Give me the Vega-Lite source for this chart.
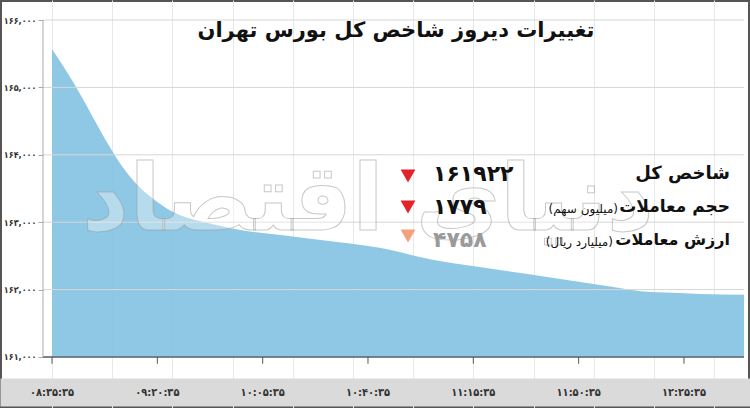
{
  "$schema": "https://vega.github.io/schema/vega-lite/v6.json",
  "width": 750,
  "height": 408,
  "autosize": "none",
  "padding": 0,
  "background": "white",
  "config": {
    "view": {"fill": "white", "stroke": "#555555", "strokeWidth": 4},
    "font": "DejaVu Sans"
  },
  "title": {
    "text": "تغییرات دیروز شاخص کل بورس تهران",
    "orient": "top",
    "anchor": "middle",
    "frame": "group",
    "offset": -41,
    "dx": 21,
    "fontSize": 21,
    "font": "DejaVu Sans",
    "fontWeight": "bold",
    "color": "#111111"
  },
  "datasets": {
    "series": [
      {"t": 0, "value": 165570},
      {"t": 0.2, "value": 165080},
      {"t": 0.36, "value": 164640},
      {"t": 0.52, "value": 164190},
      {"t": 0.67, "value": 163820},
      {"t": 0.84, "value": 163507},
      {"t": 1.0, "value": 163300},
      {"t": 1.15, "value": 163150},
      {"t": 1.47, "value": 162990},
      {"t": 1.79, "value": 162884},
      {"t": 2.17, "value": 162810},
      {"t": 2.55, "value": 162735},
      {"t": 3.11, "value": 162620},
      {"t": 3.59, "value": 162450},
      {"t": 4.06, "value": 162334},
      {"t": 4.7, "value": 162186},
      {"t": 5.33, "value": 162038},
      {"t": 5.68, "value": 161963},
      {"t": 5.96, "value": 161949},
      {"t": 6.15, "value": 161934},
      {"t": 6.57, "value": 161922}
    ],
    "levels": [
      {"level": 161000}, {"level": 162000}, {"level": 163000},
      {"level": 164000}, {"level": 165000}, {"level": 166000}
    ],
    "times": [
      {"t": 0, "time": "۰۸:۳۵:۳۵"}, {"t": 1, "time": "۰۹:۲۰:۳۵"}, {"t": 2, "time": "۱۰:۰۵:۳۵"},
      {"t": 3, "time": "۱۰:۴۰:۳۵"}, {"t": 4, "time": "۱۱:۱۵:۳۵"}, {"t": 5, "time": "۱۱:۵۰:۳۵"},
      {"t": 6, "time": "۱۲:۲۵:۳۵"}
    ],
    "stats": [
      {"row": 1, "label": "شاخص کل", "unit": "", "value": "۱۶۱۹۲۲", "change": "down"},
      {"row": 2, "label": "حجم معاملات", "unit": "(میلیون سهم)", "value": "۱۷۷۹", "change": "down"},
      {"row": 3, "label": "ارزش معاملات", "unit": "(میلیارد ریال)", "value": "۴۷۵۸", "change": "down"}
    ],
    "brand": [{"name": "دنیای اقتصاد"}]
  },
  "layer": [
    {
      "data": {"name": "series"},
      "mark": {"type": "area", "color": "#80c0e0", "opacity": 0.88, "interpolate": "monotone"},
      "encoding": {
        "x": {
          "field": "t",
          "type": "quantitative",
          "scale": {"domain": [-0.494, 6.627], "nice": false, "zero": false},
          "axis": {
            "orient": "bottom",
            "offset": -16,
            "values": [0, 0.142857, 0.285714, 0.428571, 0.571429, 0.714286, 0.857143, 1,
              1.142857, 1.285714, 1.428571, 1.571429, 1.714286, 1.857143, 2,
              2.142857, 2.285714, 2.428571, 2.571429, 2.714286, 2.857143, 3,
              3.142857, 3.285714, 3.428571, 3.571429, 3.714286, 3.857143, 4,
              4.142857, 4.285714, 4.428571, 4.571429, 4.714286, 4.857143, 5,
              5.142857, 5.285714, 5.428571, 5.571429, 5.714286, 5.857143, 6,
              6.142857, 6.285714, 6.428571],
            "labels": false,
            "domain": true,
            "domainColor": "#dadada",
            "domainWidth": 28,
            "ticks": false,
            "grid": true,
            "gridColor": "#e8e8e8",
            "gridWidth": 1,
            "title": null
          }
        },
        "y": {
          "field": "value",
          "type": "quantitative",
          "scale": {"domain": [160243, 166297], "nice": false, "zero": false},
          "axis": {
            "orient": "left",
            "offset": -43,
            "values": [161000, 162000, 163000, 164000, 165000, 166000],
            "labelExpr": "['۱۶۱,۰۰۰','۱۶۲,۰۰۰','۱۶۳,۰۰۰','۱۶۴,۰۰۰','۱۶۵,۰۰۰','۱۶۶,۰۰۰'][round((datum.value-161000)/1000)]",
            "domain": false,
            "ticks": true,
            "tickSize": 5,
            "tickColor": "#aaaaaa",
            "labelPadding": 2,
            "labelFontSize": 9,
            "labelFont": "DejaVu Sans Condensed",
            "labelFontWeight": "bold",
            "labelColor": "#333333",
            "grid": false,
            "title": null
          }
        },
        "y2": {"datum": 161000}
      }
    },
    {
      "data": {"name": "levels"},
      "mark": {"type": "rule", "color": "#d6d6d6", "strokeWidth": 1},
      "encoding": {
        "y": {"field": "level", "type": "quantitative"},
        "x": {"datum": -0.0857, "type": "quantitative"},
        "x2": {"datum": 6.57}
      }
    },
    {
      "data": {"name": "levels"},
      "transform": [{"filter": "datum.level == 161000"}],
      "mark": {"type": "rule", "color": "#556070", "strokeWidth": 1.5},
      "encoding": {
        "y": {"field": "level", "type": "quantitative"},
        "x": {"datum": -0.0857, "type": "quantitative"},
        "x2": {"datum": 6.57}
      }
    },
    {
      "data": {"name": "levels"},
      "transform": [{"filter": "datum.level == 161000"}],
      "mark": {"type": "rule", "color": "#aaaaaa", "strokeWidth": 1},
      "encoding": {
        "x": {"datum": -0.0857, "type": "quantitative"},
        "y": {"field": "level", "type": "quantitative"},
        "y2": {"datum": 166000}
      }
    },
    {
      "data": {"name": "times"},
      "mark": {"type": "rule", "color": "#555555", "strokeWidth": 1},
      "encoding": {
        "x": {"field": "t", "type": "quantitative"},
        "y": {"datum": 161000, "type": "quantitative"},
        "y2": {"datum": 160900}
      }
    },
    {
      "data": {"name": "times"},
      "mark": {"type": "text", "align": "center", "baseline": "middle", "fontSize": 11, "font": "DejaVu Sans Condensed", "fontWeight": "bold", "color": "#333333"},
      "encoding": {
        "x": {"field": "t", "type": "quantitative"},
        "y": {"datum": 160466, "type": "quantitative"},
        "text": {"field": "time"}
      }
    },
    {
      "data": {"name": "brand"},
      "mark": {"type": "text", "fontSize": 92, "font": "DejaVu Sans", "fontWeight": "bold", "fill": "#ffffff", "fillOpacity": 0.35, "stroke": "#9a9a9a", "strokeWidth": 1, "strokeOpacity": 0.55, "align": "center", "baseline": "middle"},
      "encoding": {
        "x": {"datum": 3.0, "type": "quantitative"},
        "y": {"datum": 163300, "type": "quantitative"},
        "text": {"field": "name"}
      }
    },
    {
      "data": {"name": "stats"},
      "transform": [{"filter": "datum.row == 1"}],
      "layer": [
        {"mark": {"type": "point", "shape": "triangle-down", "filled": true, "size": 220, "color": "#e3222a", "opacity": 1},
         "encoding": {"x": {"datum": 3.38, "type": "quantitative"}, "y": {"datum": 163685, "type": "quantitative"}}},
        {"mark": {"type": "text", "align": "left", "baseline": "middle", "fontSize": 22, "fontWeight": "bold", "color": "#111111"},
         "encoding": {"x": {"datum": 3.617, "type": "quantitative"}, "y": {"datum": 163715, "type": "quantitative"}, "text": {"field": "value"}}},
        {"mark": {"type": "text", "align": "right", "baseline": "middle", "fontSize": 18, "fontWeight": "bold", "color": "#111111"},
         "encoding": {"x": {"datum": 6.437, "type": "quantitative"}, "y": {"datum": 163715, "type": "quantitative"}, "text": {"field": "label"}}}
      ]
    },
    {
      "data": {"name": "stats"},
      "transform": [{"filter": "datum.row == 2"}],
      "layer": [
        {"mark": {"type": "point", "shape": "triangle-down", "filled": true, "size": 220, "color": "#e3222a", "opacity": 1},
         "encoding": {"x": {"datum": 3.38, "type": "quantitative"}, "y": {"datum": 163225, "type": "quantitative"}}},
        {"mark": {"type": "text", "align": "left", "baseline": "middle", "fontSize": 22, "fontWeight": "bold", "color": "#111111"},
         "encoding": {"x": {"datum": 3.617, "type": "quantitative"}, "y": {"datum": 163225, "type": "quantitative"}, "text": {"field": "value"}}},
        {"mark": {"type": "text", "align": "right", "baseline": "middle", "fontSize": 17, "fontWeight": "bold", "color": "#111111"},
         "encoding": {"x": {"datum": 6.437, "type": "quantitative"}, "y": {"datum": 163225, "type": "quantitative"}, "text": {"field": "label"}}},
        {"mark": {"type": "text", "align": "right", "baseline": "middle", "fontSize": 12, "color": "#111111"},
         "encoding": {"x": {"datum": 5.374, "type": "quantitative"}, "y": {"datum": 163195, "type": "quantitative"}, "text": {"field": "unit"}}}
      ]
    },
    {
      "data": {"name": "stats"},
      "transform": [{"filter": "datum.row == 3"}],
      "layer": [
        {"mark": {"type": "point", "shape": "triangle-down", "filled": true, "size": 220, "color": "#f4a07e", "opacity": 1},
         "encoding": {"x": {"datum": 3.38, "type": "quantitative"}, "y": {"datum": 162795, "type": "quantitative"}}},
        {"mark": {"type": "text", "align": "left", "baseline": "middle", "fontSize": 22, "fontWeight": "bold", "color": "#9a9a9a"},
         "encoding": {"x": {"datum": 3.617, "type": "quantitative"}, "y": {"datum": 162736, "type": "quantitative"}, "text": {"field": "value"}}},
        {"mark": {"type": "text", "align": "right", "baseline": "middle", "fontSize": 16, "fontWeight": "bold", "color": "#111111"},
         "encoding": {"x": {"datum": 6.437, "type": "quantitative"}, "y": {"datum": 162736, "type": "quantitative"}, "text": {"field": "label"}}},
        {"mark": {"type": "text", "align": "right", "baseline": "middle", "fontSize": 12, "color": "#111111"},
         "encoding": {"x": {"datum": 5.326, "type": "quantitative"}, "y": {"datum": 162706, "type": "quantitative"}, "text": {"field": "unit"}}}
      ]
    }
  ]
}
